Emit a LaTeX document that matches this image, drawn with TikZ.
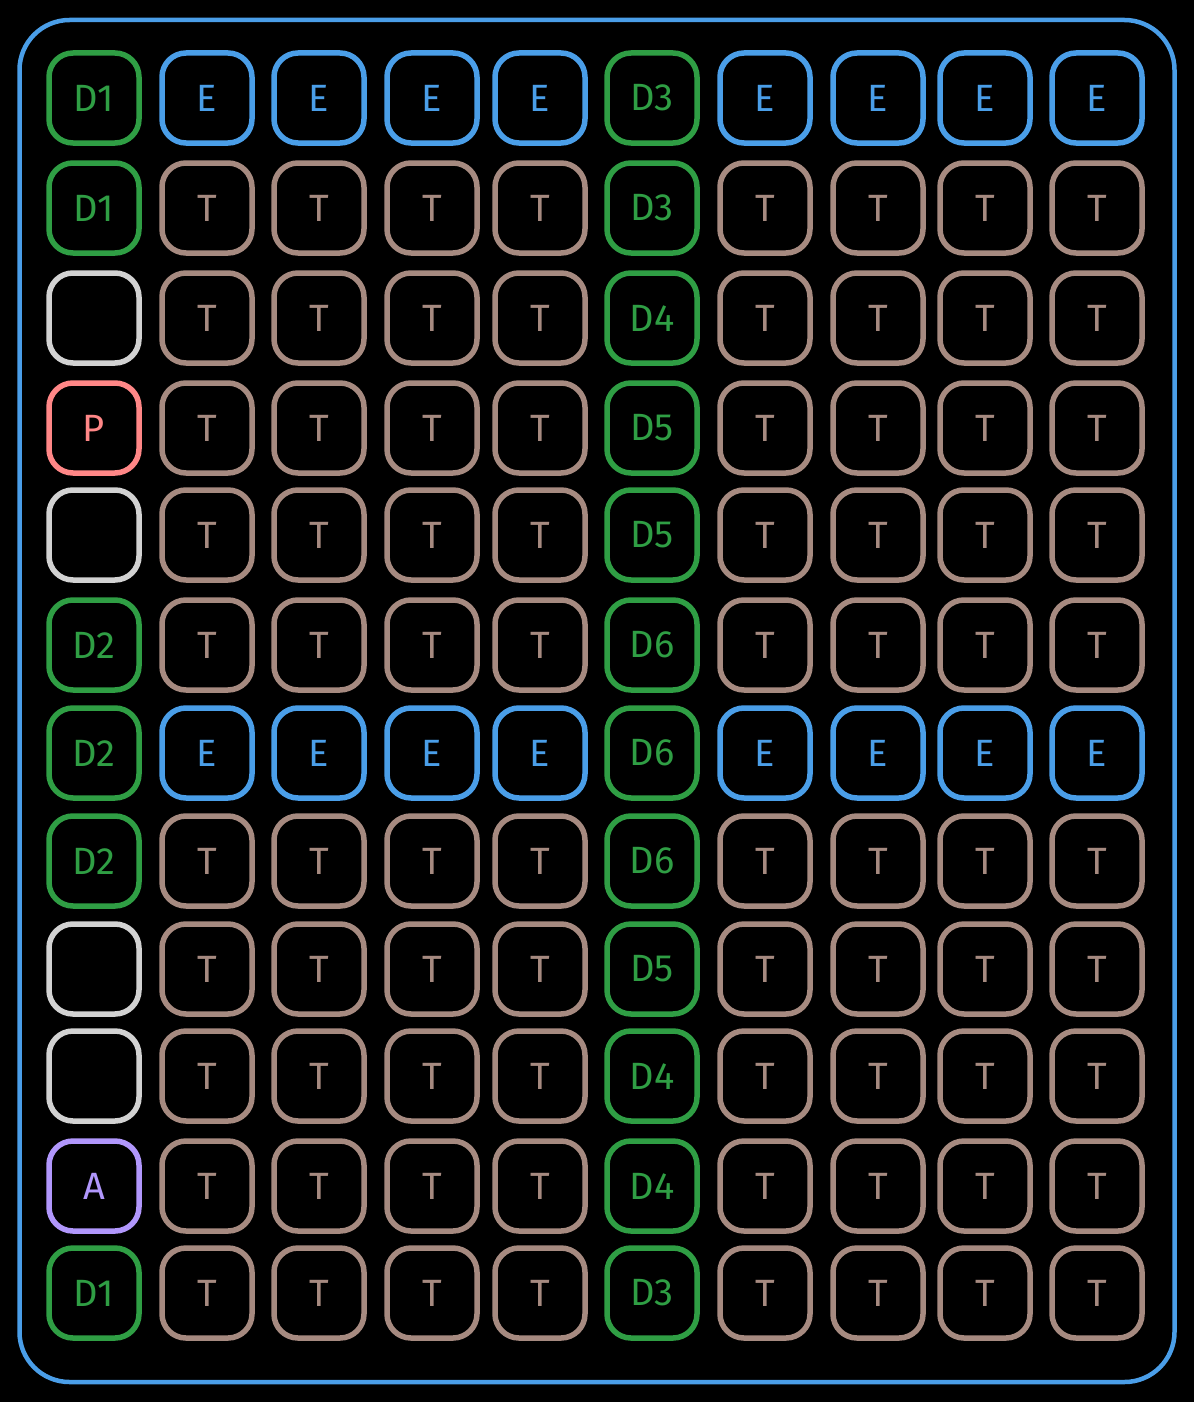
\documentclass[tikz,border=0pt]{standalone}
\definecolor{frameblue}{RGB}{74,158,232}
\definecolor{dgreen}{RGB}{47,158,68}
\definecolor{ttan}{RGB}{166,138,128}
\definecolor{lgray}{RGB}{210,210,210}
\definecolor{pred}{RGB}{255,135,135}
\definecolor{apurple}{RGB}{177,151,252}
\usepackage{fontspec}
\setmainfont{Fira Sans}
\usepackage{tikz}
\usetikzlibrary{positioning,calc}

\tikzset{
    cell/.style={rounded corners=24pt, line width=5.5pt, minimum width=90pt, minimum height=90pt,
        inner sep=0pt, font=\fontsize{38}{42}\selectfont},
    dcell/.style={cell, draw=dgreen, text=dgreen},
    ecell/.style={cell, draw=frameblue, text=frameblue},
    tcell/.style={cell, draw=ttan, text=ttan},
    ocell/.style={cell, draw=lgray},
    pcell/.style={cell, draw=pred, text=pred},
    acell/.style={cell, draw=apurple, text=apurple}
}

\begin{document}
\begin{tikzpicture}[x=1pt, y=-1pt]
    % background and outer frame
    \fill[black] (0,0) rectangle (1194,1402);
    \useasboundingbox (0,0) rectangle (1194,1402);
    \node[draw=frameblue, line width=4.5pt, rounded corners=50pt, minimum width=1155pt, minimum height=1362pt]
        (frame) at (597,701) {};

    % left column
    \foreach \r/\y/\t/\s in {0/98/D1/dcell, 1/208/D1/dcell, 2/318//ocell, 3/428/P/pcell,
        4/535//ocell, 5/645/D2/dcell, 6/753/D2/dcell, 7/861/D2/dcell, 8/969//ocell,
        9/1076//ocell, 10/1186/A/acell, 11/1293/D1/dcell}
        \node[\s] (cell-\r-0) at (94,\y) {\t};

    % middle column
    \foreach \r/\y/\t in {0/98/D3, 1/208/D3, 2/318/D4, 3/428/D5, 4/535/D5, 5/645/D6,
        6/753/D6, 7/861/D6, 8/969/D5, 9/1076/D4, 10/1186/D4, 11/1293/D3}
        \node[dcell] (cell-\r-5) at (652,\y) {\t};

    % E rows
    \foreach \r/\y in {0/98, 6/753}
        \foreach \c/\x in {1/207, 2/319, 3/432, 4/540, 6/765, 7/878, 8/985, 9/1097}
            \node[ecell] (cell-\r-\c) at (\x,\y) {E};

    % T rows
    \foreach \r/\y in {1/208, 2/318, 3/428, 4/535, 5/645, 7/861, 8/969, 9/1076, 10/1186, 11/1293}
        \foreach \c/\x in {1/207, 2/319, 3/432, 4/540, 6/765, 7/878, 8/985, 9/1097}
            \node[tcell] (cell-\r-\c) at (\x,\y) {T};
\end{tikzpicture}
\end{document}
